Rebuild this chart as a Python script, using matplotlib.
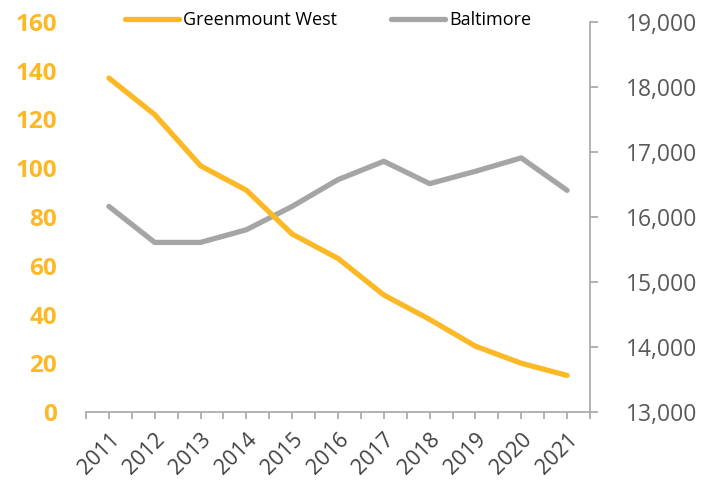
import matplotlib.pyplot as plt
import numpy as np

plt.rcParams['font.family'] = ['Open Sans', 'DejaVu Sans']

years = ['2011', '2012', '2013', '2014', '2015', '2016', '2017', '2018', '2019', '2020', '2021']
greenmount = [137, 122, 101, 91, 73, 63, 48, 38, 27, 20, 15]
baltimore = [16163, 15609, 15609, 15804, 16163, 16575, 16857, 16513, 16703, 16909, 16410]

orange = '#FDB825'
grey = '#A5A5A5'

fig = plt.figure(figsize=(7.08, 4.88), dpi=100)
ax = fig.add_axes([86/708, 1 - 412/488, (590-86)/708, (412-22)/488])
ax2 = ax.twinx()

x = np.arange(len(years))
l1, = ax.plot(x, greenmount, color=orange, lw=3.8, solid_capstyle='round', label='Greenmount West', zorder=3)
l2, = ax2.plot(x, baltimore, color=grey, lw=3.8, solid_capstyle='round', label='Baltimore', zorder=2)
ax.set_zorder(ax2.get_zorder() + 1)
ax.patch.set_visible(False)

ax.set_xlim(-0.5, len(years) - 0.5)
ax.set_ylim(0, 160)
left_ticks = np.arange(0, 161, 20)
ax.set_yticks(left_ticks, [str(v) for v in left_ticks], fontweight='bold',
              fontsize=17.5, color=orange)
ax2.set_ylim(13000, 19000)
right_ticks = np.arange(13000, 19001, 1000)
ax2.set_yticks(right_ticks, [f'{v:,}' for v in right_ticks], fontsize=16.5, color='#595959')

for s in ['top', 'left', 'right']:
    ax.spines[s].set_visible(False)
for s in ['top', 'left', 'bottom']:
    ax2.spines[s].set_visible(False)
ax.spines['bottom'].set_color('#A6A6A6')
ax.spines['bottom'].set_linewidth(1.2)
ax2.spines['right'].set_color('#A6A6A6')
ax2.spines['right'].set_linewidth(1.2)

ax.set_xticks(x)
ax.set_xticks(np.arange(-0.5, len(years), 1.0), minor=True)
ax.set_xticklabels(years, rotation=45, ha='right', rotation_mode='anchor',
                   fontsize=15.5, color='#404040')
ax.tick_params(axis='x', which='both', length=5, width=1.2, color='#A6A6A6', pad=7)
ax.tick_params(axis='y', length=0, pad=21)
ax2.tick_params(axis='y', length=6, width=1.2, color='#A6A6A6', pad=20)

fig.legend(handles=[l1, l2], loc='center', bbox_to_anchor=(328/708, 1 - 20/488),
           ncol=2, frameon=False, fontsize=13, handlelength=3.0, handletextpad=0.2,
           columnspacing=3.0)

fig.savefig('out.png', dpi=100)
